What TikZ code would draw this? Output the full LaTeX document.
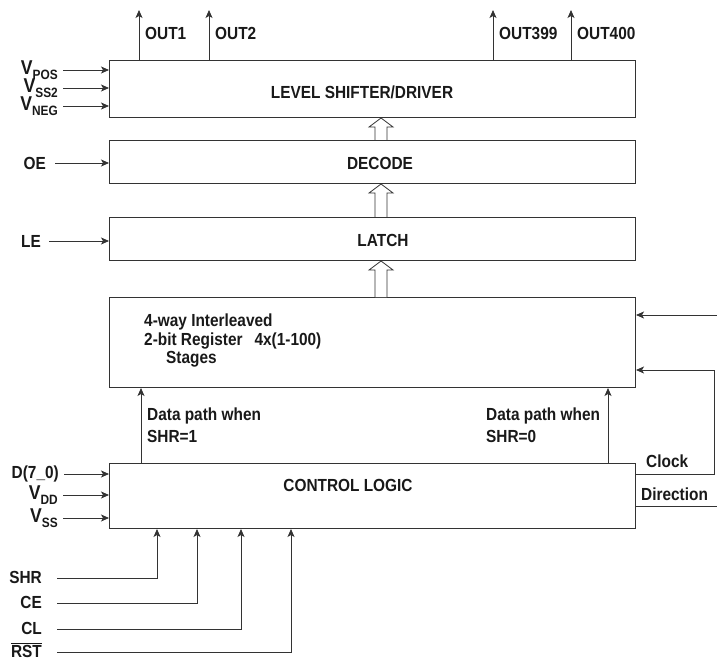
\documentclass[tikz,border=0pt]{standalone}
\usepackage{fontspec}
\setmainfont[FakeStretch=0.88]{Liberation Sans}
\usetikzlibrary{arrows.meta,calc}

% supply names: big V with a lowered index
\newcommand{\vsub}[1]{{\fontsize{20}{20}\selectfont V}\raisebox{-5pt}{\fontsize{13.5}{13.5}\selectfont #1}}

\begin{document}
\begin{tikzpicture}[x=1pt, y=-1pt,
    every node/.style={font=\fontsize{17.5}{19}\selectfont\bfseries, text=black!90, inner sep=1pt},
    blk/.style={draw=black!80, line width=1pt, anchor=north west, minimum width=526pt, inner sep=0pt},
    sig/.style={draw=black!80, line width=0.8pt, -{Stealth[length=8pt,width=7pt,inset=2pt]}},
    wire/.style={draw=black!80, line width=0.8pt},
    fat/.style={draw=black!80, line width=0.8pt, fill=white}]
    \useasboundingbox (0,0) rectangle (717,660);

    % blocks
    \node[blk, minimum height=57pt] (ls) at (109,60) {};
    \node[blk, minimum height=43pt] (dec) at (109,140) {};
    \node[blk, minimum height=43pt] (latch) at (109,217) {};
    \node[blk, minimum height=90pt] (reg) at (109,297) {};
    \node[blk, minimum height=65pt] (ctrl) at (109,463) {};

    % block texts
    \node (lstxt) at (362,92) {LEVEL SHIFTER/DRIVER};
    \node (dectxt) at (380,163) {DECODE};
    \node (latchtxt) at (383,240) {LATCH};
    \node (ctrltxt) at (348,485) {CONTROL LOGIC};
    \node[anchor=west, align=left, font=\fontsize{17.5}{18.5}\selectfont\bfseries] (regtxt) at (143,341)
        {4-way Interleaved\\2-bit Register\\\hspace*{22pt}Stages};
    \node (regn) at (288,341) {4x(1-100)};

    % bus arrows between blocks
    \coordinate (ax) at (381,0);
    \foreach \lo/\hi in {dec/ls, latch/dec, reg/latch} {
        \draw[fat] let \p1=(\hi.south -| ax), \p2=(\lo.north -| ax) in
            (\x1-6pt,\y2) -- (\x1-6pt,\y1-9pt) -- (\x1-12pt,\y1-9pt) -- (\x1,\y1)
            -- (\x1+12pt,\y1-9pt) -- (\x1+6pt,\y1-9pt) -- (\x1+6pt,\y2);
    }

    % outputs
    \foreach \x/\name in {139/OUT1, 209/OUT2, 493/OUT399, 571/OUT400} {
        \coordinate (top\name) at (\x,10);
        \draw[sig] (ls.north -| top\name) -- (top\name);
        \node[anchor=west] (lbl\name) at (\x+5,33) {\name};
    }

    % supplies and enables on the left
    \node[anchor=east] (vpos) at (59,70) {\vsub{POS}};
    \node[anchor=east] (vss2) at (59,88) {\vsub{SS2}};
    \node[anchor=east] (vneg) at (59,106) {\vsub{NEG}};
    \foreach \n in {vpos,vss2,vneg}
        \draw[sig] ([xshift=4pt]\n.east) -- (\n.east -| ls.west);
    \node[anchor=east] (oe) at (47,163) {OE};
    \draw[sig] ([xshift=8pt]oe.east) -- (oe.east -| dec.west);
    \node[anchor=east] (le) at (42,241) {LE};
    \draw[sig] ([xshift=7pt]le.east) -- (le.east -| latch.west);

    \node[anchor=east] (din) at (60,474) {D(7\_0)};
    \node[anchor=east] (vdd) at (59,495) {\vsub{DD}};
    \node[anchor=east] (vss) at (59,518) {\vsub{SS}};
    \foreach \n in {din,vdd,vss}
        \draw[sig] ([xshift=4pt]\n.east) -- (\n.east -| ctrl.west);

    % control pins below
    \foreach \n/\lbl/\x/\y in {shr/SHR/157/578, ce/CE/197/603, cl/CL/241/629, rst/{$\overline{\hbox{RST}}$}/291/652} {
        \coordinate (pin\n) at (\x,0);
        \node[anchor=base east] (\n) at (43,\y+5) {\lbl};
        \draw[sig] ([shift={(14pt,5pt)}]\n.base east) -| (ctrl.south -| pin\n);
    }

    % data paths
    \coordinate (dpl) at (141,0);
    \coordinate (dpr) at (608,0);
    \draw[sig] (ctrl.north -| dpl) -- (reg.south -| dpl);
    \draw[sig] (ctrl.north -| dpr) -- (reg.south -| dpr);
    \node[anchor=west, align=left, font=\fontsize{17.5}{22}\selectfont\bfseries] (dpltxt) at (146,425) {Data path when\\SHR=1};
    \node[anchor=west, align=left, font=\fontsize{17.5}{22}\selectfont\bfseries] (dprtxt) at (485,425) {Data path when\\SHR=0};

    % clock and direction
    \coordinate (shin) at (717,315);
    \coordinate (dirout) at (717,506);
    \draw[sig] (shin) -- (reg.east |- shin);
    \draw[sig] ([yshift=-11pt]ctrl.north east) -- ++(78,0) |- ([yshift=18pt]reg.south east);
    \draw[wire] (ctrl.east |- dirout) -- (dirout);
    \node[anchor=west] (clk) at (645,461) {Clock};
    \node[anchor=west] (dir) at (640,494) {Direction};
\end{tikzpicture}
\end{document}
